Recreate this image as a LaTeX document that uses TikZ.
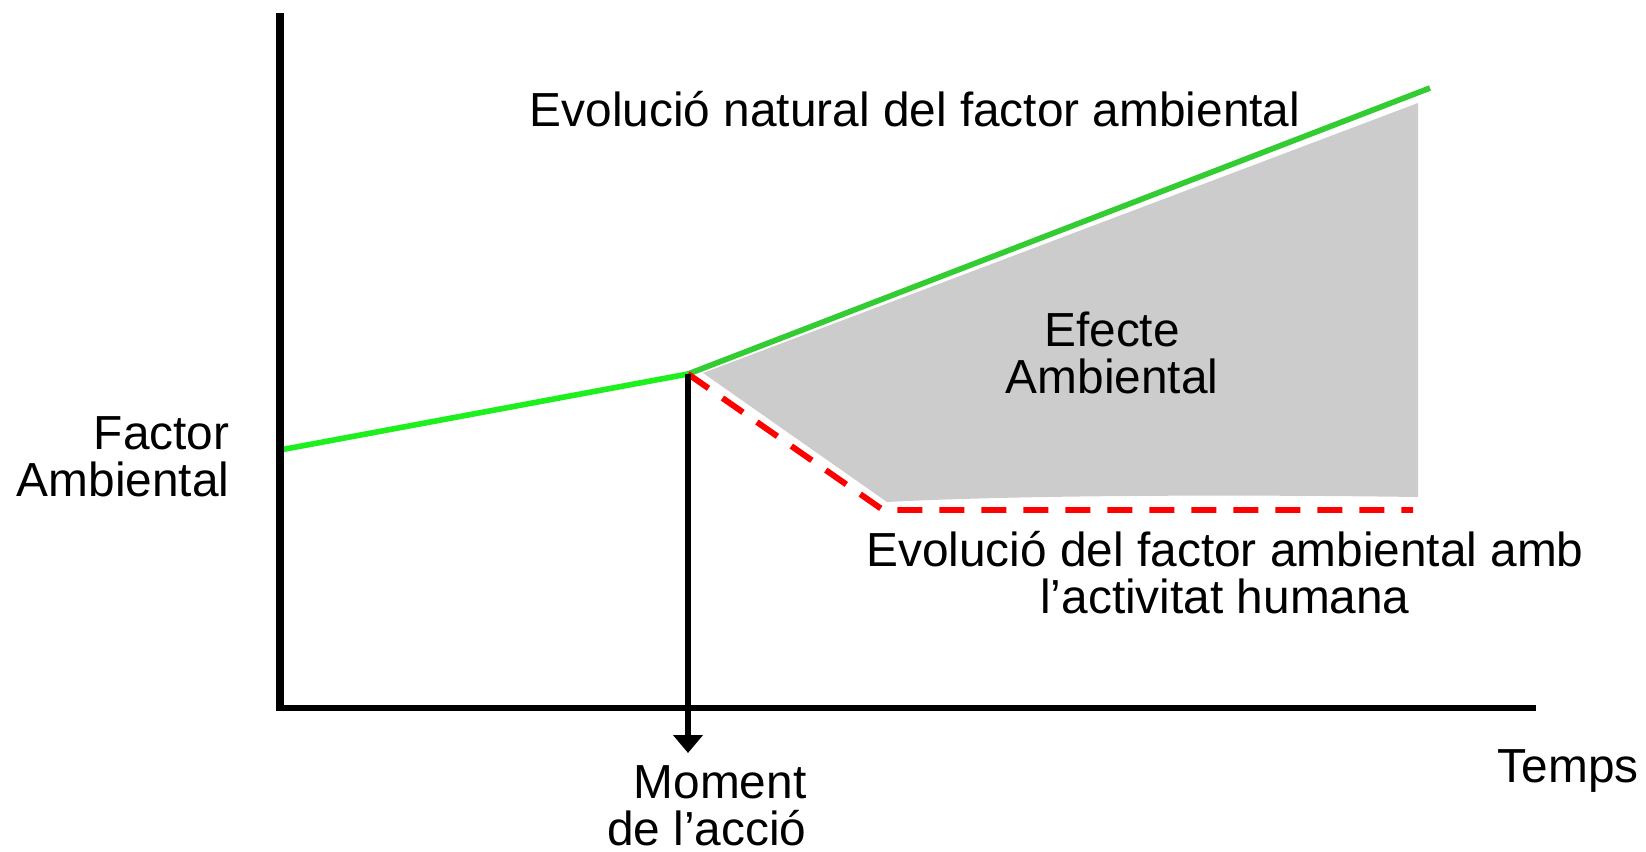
\documentclass[tikz,border=0pt]{standalone}
\usepackage{fontspec}
\setmainfont{Liberation Sans}
\usetikzlibrary{arrows.meta}
\definecolor{lightgreen}{RGB}{30,240,30}
\definecolor{darkgreen}{RGB}{51,204,51}
\definecolor{effectgray}{RGB}{204,204,204}
\tikzset{every node/.style={inner sep=0pt, font=\fontsize{13.6}{13.1}\selectfont},
         axis/.style={draw, black},
         natural/.style={draw, line width=1.6pt},
         human/.style={draw, red, line width=1.7pt, dash pattern=on 0.25cm off 0.17cm},
         action/.style={draw, line width=1.6pt, -{Triangle[length=0.18cm, width=0.29cm]}} }

\begin{document}
\begin{tikzpicture}
    \useasboundingbox (0,0) rectangle (16.46,8.51);
    \coordinate (top) at (2.80,8.38);
    \coordinate (o) at (2.80,1.43);
    \coordinate (xend) at (15.36,1.43);
    \coordinate (g0) at (2.80,4.01);
    \coordinate (a) at (6.88,4.77);
    \coordinate (g1) at (14.30,7.63);
    \coordinate (tip) at (6.88,0.98);
    \coordinate (r0) at (8.83,3.41);
    \coordinate (r1) at (14.13,3.41);
    \fill[effectgray] (7.03,4.78) -- (14.18,7.48) -- (14.18,3.54)
        .. controls (12.0,3.57) and (10.0,3.55) .. (8.87,3.49) -- cycle;
    \draw[natural, lightgreen] (g0) -- (a);
    \draw[natural, darkgreen] (a) -- (g1);
    \draw[human] (a) -- (r0) -- (r1);
    \draw[action] (a) -- (tip);
    \draw[axis, line width=2.4pt] (top) -- (o);
    \draw[axis, line width=1.8pt] ([xshift=-0.04cm]o) -- (xend);
    \node[anchor=base] (nat) at (9.15,7.24) {Evolució natural del factor ambiental};
    \node[anchor=base, align=center] (eff) at (11.12,4.58) {Efecte\\Ambiental};
    \node[anchor=base east, align=right] (fac) at (2.30,3.55) {Factor\\Ambiental};
    \node[anchor=base, align=center] (hum) at (12.25,2.38) {Evolució del factor ambiental amb\\l’activitat humana};
    \node[anchor=base east, align=right] (mom) at (8.07,0.06) {Moment\\de l’acció};
    \node[anchor=base west] (tmp) at (14.97,0.69) {Temps};
\end{tikzpicture}
\end{document}
